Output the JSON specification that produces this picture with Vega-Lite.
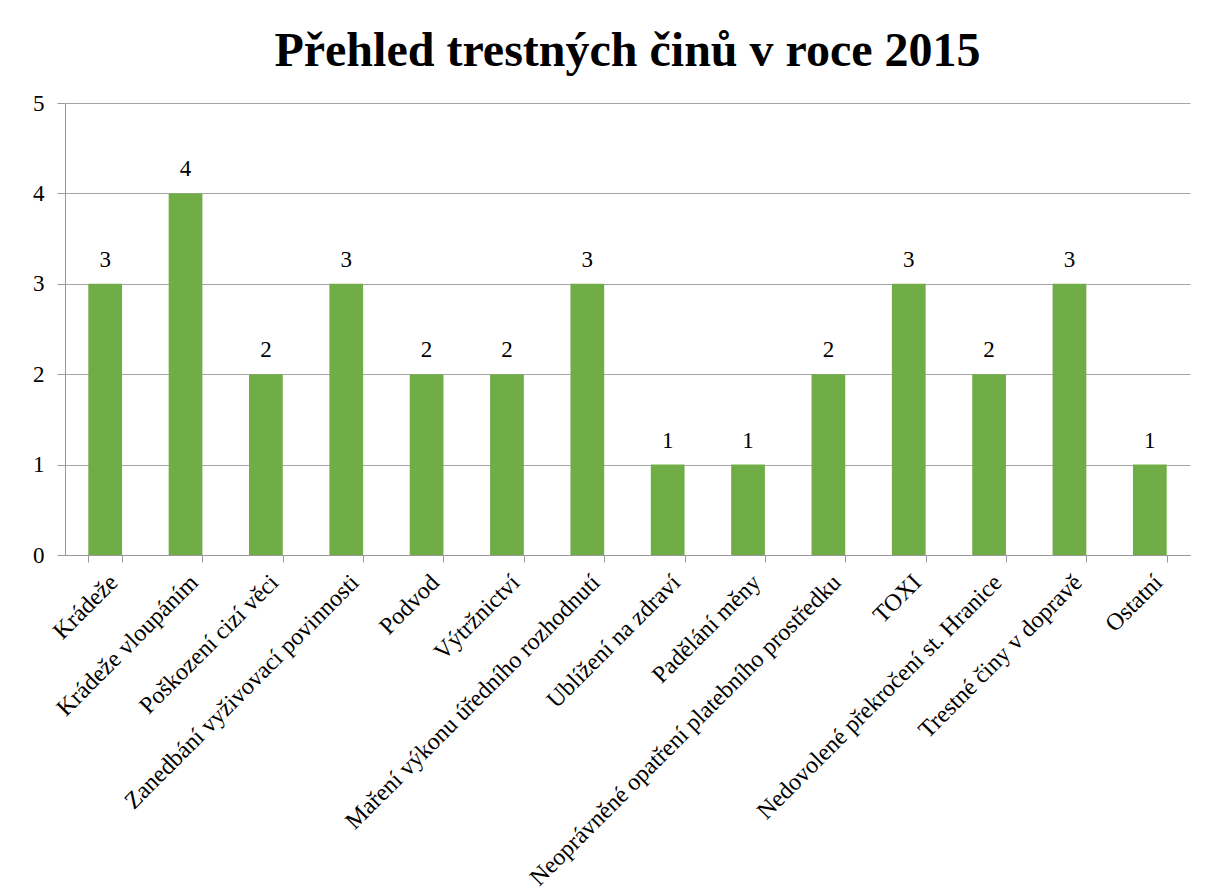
{
  "$schema": "https://vega.github.io/schema/vega-lite/v6.json",
  "width": 1125,
  "height": 452,
  "padding": {"left": 32, "top": 28, "right": 17, "bottom": 5},
  "background": "white",
  "title": {"text": "Přehled trestných činů v roce 2015", "font": "Liberation Serif", "fontSize": 48, "fontWeight": "bold", "color": "black", "offset": 16, "anchor": "middle"},
  "data": {"values": [
    {"kategorie": "Krádeže", "pocet": 3},
    {"kategorie": "Krádeže vloupáním", "pocet": 4},
    {"kategorie": "Poškození cizí věci", "pocet": 2},
    {"kategorie": "Zanedbání vyživovací povinnosti", "pocet": 3},
    {"kategorie": "Podvod", "pocet": 2},
    {"kategorie": "Výtržnictví", "pocet": 2},
    {"kategorie": "Maření výkonu úředního rozhodnutí", "pocet": 3},
    {"kategorie": "Ublížení na zdraví", "pocet": 1},
    {"kategorie": "Padělání měny", "pocet": 1},
    {"kategorie": "Neoprávněné opatření platebního prostředku", "pocet": 2},
    {"kategorie": "TOXI", "pocet": 3},
    {"kategorie": "Nedovolené překročení st. Hranice", "pocet": 2},
    {"kategorie": "Trestné činy v dopravě", "pocet": 3},
    {"kategorie": "Ostatní", "pocet": 1}
  ]},
  "encoding": {
    "x": {
      "field": "kategorie", "type": "nominal", "sort": null, "title": null,
      "scale": {"paddingInner": 0.58, "paddingOuter": 0.29},
      "axis": {"labelAngle": -45, "labelFont": "Liberation Serif", "labelFontSize": 24, "labelColor": "black", "labelPadding": 8, "tickBand": "extent", "tickSize": 7, "tickColor": "#999999", "domainColor": "#999999", "labelLimit": 700, "grid": false}
    },
    "y": {
      "field": "pocet", "type": "quantitative", "title": null,
      "scale": {"domain": [0, 5]},
      "axis": {"values": [0, 1, 2, 3, 4, 5], "labelFont": "Liberation Serif", "labelFontSize": 23, "labelColor": "black", "labelPadding": 13, "tickSize": 8, "tickColor": "#999999", "domainColor": "#999999", "gridColor": "#A6A6A6", "grid": true}
    }
  },
  "layer": [
    {"mark": {"type": "bar", "color": "#70AD47"}},
    {"mark": {"type": "text", "dy": -24, "font": "Liberation Serif", "fontSize": 23, "color": "black"}, "encoding": {"text": {"field": "pocet", "type": "quantitative"}}}
  ],
  "config": {"view": {"stroke": null}}
}
